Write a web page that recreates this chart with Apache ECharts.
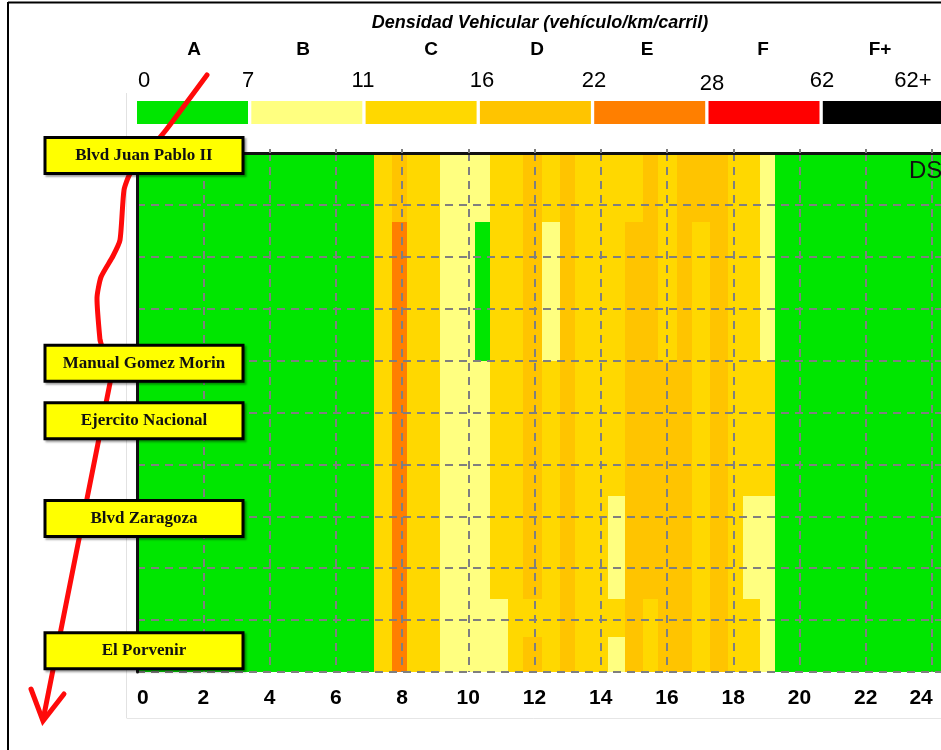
<!DOCTYPE html>
<html>
<head>
<meta charset="utf-8">
<script src="https://cdn.jsdelivr.net/npm/echarts@6/dist/echarts.min.js"></script>
<style>
  html, body { margin: 0; padding: 0; background: #ffffff; }
  #chart { width: 941px; height: 750px; }
</style>
</head>
<body>
<div id="chart"></div>
<script>
// ---------------- DATA ----------------
// Level-of-service classes (legend) and density thresholds (veh/km/lane)
const levelNames = ['A', 'B', 'C', 'D', 'E', 'F', 'F+'];
const thresholdLabels = ['0', '7', '11', '16', '22', '28', '62', '62+'];
const levelColors = ['#00e600', '#ffff80', '#ffd800', '#ffc400', '#ff7f00', '#ff0000', '#000000'];

// Time (hours) at which each column of the heatmap starts/ends
const hourEdges = [0, 7.14, 7.70, 8.15, 9.15, 10.21, 10.66, 11.21, 11.66, 12.23, 12.78,
                   13.23, 14.23, 14.74, 15.28, 15.74, 16.31, 16.76, 17.30, 17.84, 18.30,
                   18.81, 19.27, 24.27];
// Position along the corridor (axis units, top -> bottom) of each row boundary
const roadEdges = [0, 1.33, 4.0, 6.6, 8.6, 9.33, 10];
// Level of service for each column, rows listed top -> bottom
const levelColumns = [
  'AAAAAA', 'CCCCCC', 'DEEEEE', 'CCCCCC', 'BBBBBB', 'BABBBB', 'CCCCBB', 'CCCCCC',
  'DDDDCD', 'CBCCCC', 'DDDDDD', 'CCCCCC', 'CCCBCB', 'CDDDDD', 'DDDDCC', 'CCDDDD',
  'DDDDDD', 'DCCCCC', 'DDDDDD', 'CCCCCC', 'CCCBCC', 'BBCBBB', 'AAAAAA'
];

// Road cross streets and their position along the corridor
const streetNames = ['Blvd Juan Pablo II', 'Manual Gomez Morin', 'Ejercito Nacional', 'Blvd Zaragoza', 'El Porvenir'];
const streetPositions = [0.05, 4.05, 5.16, 7.04, 9.59];

// x axis ticks
const hourTicks = [0, 2, 4, 6, 8, 10, 12, 14, 16, 18, 20, 22, 24];

// ---------------- BUILD ----------------
const cells = [];
for (let c = 0; c < levelColumns.length; c++) {
  for (let r = 0; r < roadEdges.length - 1; r++) {
    const li = levelNames.indexOf(levelColumns[c][r]);
    cells.push([hourEdges[c], hourEdges[c + 1], roadEdges[r], roadEdges[r + 1], li]);
  }
}
const streetData = streetNames.map((n, i) => ({ name: n, value: [0, streetPositions[i]] }));

const SANS = '"Liberation Sans", Arial, sans-serif';
const SERIF = '"Liberation Serif", "DejaVu Serif", serif';

// ---------------- LAYOUT (legend & decorations) ----------------
const swatchX0 = 137, swatchStep = 114.3, swatchW = 111, swatchY = 101, swatchH = 23;
const letterX = [194, 303, 431, 537, 647, 763, 880];
const numberX = [144, 248, 363, 482, 594, 712, 822, 913];

const graphics = [];
// outer frame (left + top)
graphics.push({ type: 'line', z: 1, shape: { x1: 8, y1: 2, x2: 8, y2: 750 }, style: { stroke: '#000', lineWidth: 2 } });
graphics.push({ type: 'line', z: 1, shape: { x1: 8, y1: 2.5, x2: 941, y2: 2.5 }, style: { stroke: '#000', lineWidth: 2 } });
// faint pasted-image edges
graphics.push({ type: 'line', z: 0, shape: { x1: 126.5, y1: 93, x2: 126.5, y2: 718 }, style: { stroke: '#e2e2e2', lineWidth: 1 } });
graphics.push({ type: 'line', z: 0, shape: { x1: 126.5, y1: 718.5, x2: 941, y2: 718.5 }, style: { stroke: '#e6e6e6', lineWidth: 1 } });
// title
graphics.push({ type: 'text', z: 2, x: 540, y: 23, style: {
  text: 'Densidad Vehicular (vehículo/km/carril)', fill: '#000',
  font: 'italic bold 18px ' + SANS, align: 'center', verticalAlign: 'middle' } });
// legend
levelNames.forEach((nm, i) => {
  const x = swatchX0 + i * swatchStep;
  const w = i === levelNames.length - 1 ? 941 - x : swatchW;
  graphics.push({ type: 'rect', z: 2, shape: { x: x, y: swatchY, width: w, height: swatchH }, style: { fill: levelColors[i] } });
  graphics.push({ type: 'text', z: 2, x: letterX[i], y: 50, style: {
    text: nm, fill: '#000', font: 'bold 19px ' + SANS, align: 'center', verticalAlign: 'middle' } });
});
thresholdLabels.forEach((t, i) => {
  graphics.push({ type: 'text', z: 2, x: numberX[i], y: i === 5 ? 84 : 81, style: {
    text: t, fill: '#000', font: '22px ' + SANS, align: 'center', verticalAlign: 'middle' } });
});
// "DS" fragment at the top right of the plot
graphics.push({ type: 'text', z: 30, x: 909, y: 171, style: {
  text: 'DS', fill: '#111', font: '24px ' + SANS, align: 'left', verticalAlign: 'middle' } });
// red hand-drawn arrow
graphics.push({ type: 'polyline', z: 5, shape: { smooth: 0.2, points: [
  [207, 75], [166, 130], [130, 174], [124, 190], [120, 240], [113, 256], [101, 277], [97, 298], [100, 340]
] }, style: { stroke: '#ff0a0a', lineWidth: 5, fill: null, lineCap: 'round', lineJoin: 'round' } });
graphics.push({ type: 'polyline', z: 5, shape: { points: [[100, 340], [111, 378], [43, 720]] },
  style: { stroke: '#ff0a0a', lineWidth: 5, fill: null, lineJoin: 'round' } });
graphics.push({ type: 'polyline', z: 5, shape: { points: [[31, 689], [43, 721], [64, 694]] },
  style: { stroke: '#ff0a0a', lineWidth: 5, fill: null, lineJoin: 'miter', lineCap: 'round' } });

// ---------------- CHART ----------------
const chart = echarts.init(document.getElementById('chart'), null, { renderer: 'canvas' });
const dashed = { show: true, lineStyle: { color: '#7f7f7f', width: 2, type: [8, 6] } };

chart.setOption({
  animation: false,
  backgroundColor: '#ffffff',
  grid: { left: 137, right: 0, top: 153, bottom: 78 },
  xAxis: [{
    type: 'value', min: 0, max: hourEdges[hourEdges.length - 1], interval: 2, position: 'bottom', z: 10,
    axisLine: { show: true, lineStyle: { color: '#111', width: 3 } },
    axisTick: { show: true, inside: true, length: 4, lineStyle: { color: '#7f7f7f', width: 2 } },
    splitLine: { show: true, showMaxLine: false, lineStyle: { color: '#7f7f7f', width: 2, type: [8, 6] } },
    axisLabel: {
      show: true, margin: 16, color: '#000', fontSize: 21, fontWeight: 'bold', fontFamily: SANS,
      showMaxLabel: false, alignMinLabel: 'left',
      formatter: function (v) {
        if (hourTicks.indexOf(v) < 0) return '';
        return v === 24 ? '{r|24}' : String(v);
      },
      rich: { r: { padding: [0, 22, 0, 0], fontSize: 21, fontWeight: 'bold', fontFamily: SANS, color: '#000' } }
    }
  }, {
    type: 'value', min: 0, max: hourEdges[hourEdges.length - 1], position: 'top', z: 10,
    axisLine: { show: true, lineStyle: { color: '#111', width: 3 } },
    axisTick: { show: false }, axisLabel: { show: false }, splitLine: { show: false }
  }],
  yAxis: {
    type: 'value', min: 0, max: 10, interval: 1, inverse: true, z: 10,
    axisLine: { show: true, lineStyle: { color: '#111', width: 3 } },
    axisTick: { show: false }, axisLabel: { show: false },
    splitLine: dashed
  },
  series: [{
    type: 'custom', xAxisIndex: 0, yAxisIndex: 0, z: 2,
    clip: true,
    encode: { x: [0, 1], y: [2, 3] },
    data: cells,
    renderItem: function (params, api) {
      const p0 = api.coord([api.value(0), api.value(2)]);
      const p1 = api.coord([api.value(1), api.value(3)]);
      const x0 = Math.round(Math.min(p0[0], p1[0])), x1 = Math.round(Math.max(p0[0], p1[0]));
      const y0 = Math.round(Math.min(p0[1], p1[1])), y1 = Math.round(Math.max(p0[1], p1[1]));
      return { type: 'rect', shape: { x: x0, y: y0, width: x1 - x0, height: y1 - y0 },
               style: { fill: levelColors[api.value(4)] } };
    }
  }, {
    type: 'scatter', xAxisIndex: 0, yAxisIndex: 0, z: 20, clip: false,
    symbol: 'circle', symbolSize: 1,
    itemStyle: { color: 'rgba(0,0,0,0)', opacity: 1 },
    label: {
      show: true, position: 'inside', offset: [7, 0], formatter: '{b}', color: '#111',
      fontFamily: SERIF, fontWeight: 'bold', fontSize: 17,
      backgroundColor: '#ffff00', borderColor: '#000', borderWidth: 3,
      width: 195, height: 33, lineHeight: 33, align: 'center', verticalAlign: 'middle', padding: 0,
      shadowColor: 'rgba(0,0,0,0.35)', shadowOffsetX: 2, shadowOffsetY: 2, shadowBlur: 2
    },
    emphasis: { disabled: true },
    data: streetData
  }],
  graphic: graphics
});
</script>
</body>
</html>
